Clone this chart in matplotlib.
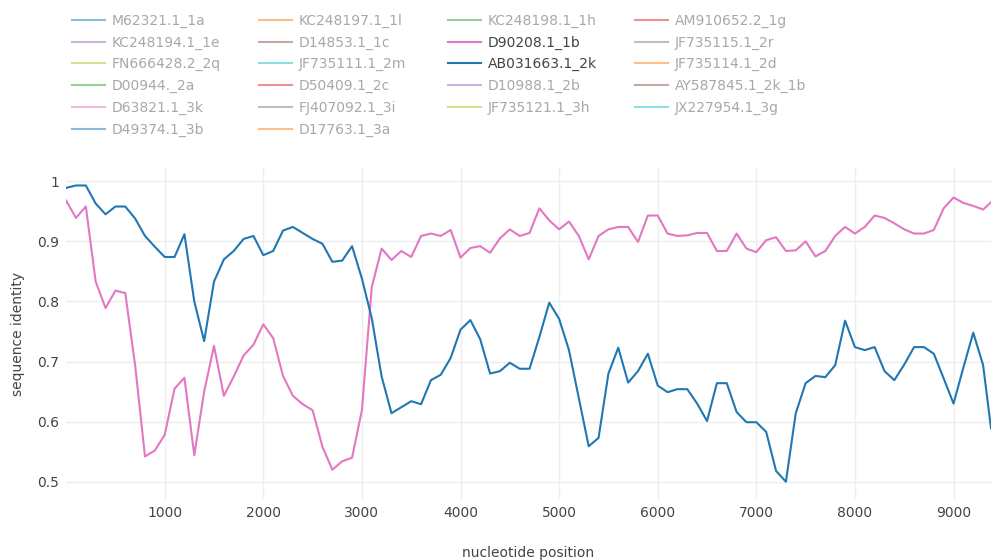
import matplotlib
matplotlib.use("Agg")
import matplotlib.pyplot as plt

plt.rcParams['font.family'] = ['DejaVu Sans']

# ---- data -------------------------------------------------------------
positions = [0, 100, 200, 300, 400, 500, 600, 700, 800, 900,
             1000, 1100, 1200, 1300, 1400, 1500, 1600, 1700, 1800, 1900,
             2000, 2100, 2200, 2300, 2400, 2500, 2600, 2700, 2800, 2900,
             3000, 3100, 3200, 3300, 3400, 3500, 3600, 3700, 3800, 3900,
             4000, 4100, 4200, 4300, 4400, 4500, 4600, 4700, 4800, 4900,
             5000, 5100, 5200, 5300, 5400, 5500, 5600, 5700, 5800, 5900,
             6000, 6100, 6200, 6300, 6400, 6500, 6600, 6700, 6800, 6900,
             7000, 7100, 7200, 7300, 7400, 7500, 7600, 7700, 7800, 7900,
             8000, 8100, 8200, 8300, 8400, 8500, 8600, 8700, 8800, 8900,
             9000, 9100, 9200, 9300, 9380]

identity_D90208_1b = [0.968, 0.939, 0.958, 0.833, 0.789, 0.818, 0.814, 0.694, 0.542, 0.552,
                      0.578, 0.655, 0.673, 0.544, 0.650, 0.726, 0.643, 0.675, 0.710, 0.728,
                      0.762, 0.739, 0.676, 0.643, 0.629, 0.619, 0.558, 0.520, 0.534, 0.540,
                      0.619, 0.824, 0.888, 0.869, 0.884, 0.874, 0.909, 0.913, 0.909, 0.919,
                      0.873, 0.889, 0.892, 0.881, 0.905, 0.920, 0.909, 0.914, 0.955, 0.935,
                      0.920, 0.933, 0.909, 0.870, 0.909, 0.920, 0.924, 0.924, 0.899, 0.943,
                      0.943, 0.913, 0.909, 0.910, 0.914, 0.914, 0.884, 0.884, 0.913, 0.888,
                      0.882, 0.902, 0.907, 0.884, 0.885, 0.900, 0.875, 0.884, 0.909, 0.924,
                      0.913, 0.924, 0.943, 0.939, 0.930, 0.920, 0.913, 0.913, 0.919, 0.955,
                      0.973, 0.964, 0.959, 0.953, 0.965]

identity_AB031663_2k = [0.989, 0.993, 0.993, 0.963, 0.945, 0.958, 0.958, 0.938, 0.909, 0.891,
                        0.874, 0.874, 0.912, 0.800, 0.734, 0.833, 0.870, 0.884, 0.904, 0.909,
                        0.877, 0.884, 0.918, 0.924, 0.914, 0.904, 0.896, 0.866, 0.868, 0.892,
                        0.838, 0.772, 0.675, 0.614, 0.624, 0.634, 0.629, 0.669, 0.678, 0.706,
                        0.753, 0.769, 0.737, 0.680, 0.684, 0.698, 0.688, 0.688, 0.741, 0.798,
                        0.771, 0.719, 0.639, 0.559, 0.573, 0.680, 0.723, 0.665, 0.684, 0.713,
                        0.660, 0.649, 0.654, 0.654, 0.630, 0.601, 0.664, 0.664, 0.616, 0.599,
                        0.599, 0.583, 0.518, 0.500, 0.614, 0.664, 0.676, 0.674, 0.694, 0.768,
                        0.724, 0.719, 0.724, 0.684, 0.669, 0.695, 0.724, 0.724, 0.713, 0.672,
                        0.630, 0.690, 0.748, 0.694, 0.589]

trace_names = ["M62321.1_1a", "KC248197.1_1l", "KC248198.1_1h", "AM910652.2_1g",
               "KC248194.1_1e", "D14853.1_1c", "D90208.1_1b", "JF735115.1_2r",
               "FN666428.2_2q", "JF735111.1_2m", "AB031663.1_2k", "JF735114.1_2d",
               "D00944._2a", "D50409.1_2c", "D10988.1_2b", "AY587845.1_2k_1b",
               "D63821.1_3k", "FJ407092.1_3i", "JF735121.1_3h", "JX227954.1_3g",
               "D49374.1_3b", "D17763.1_3a"]

visible_series = {"D90208.1_1b": identity_D90208_1b,
                  "AB031663.1_2k": identity_AB031663_2k}

y_ticks = [0.5, 0.6, 0.7, 0.8, 0.9, 1.0]
y_tick_labels = ["0.5", "0.6", "0.7", "0.8", "0.9", "1"]
x_ticks = [1000, 2000, 3000, 4000, 5000, 6000, 7000, 8000, 9000]

# ---- style ------------------------------------------------------------
palette = ["#1f77b4", "#ff7f0e", "#2ca02c", "#d62728", "#9467bd",
           "#8c564b", "#e377c2", "#7f7f7f", "#bcbd22", "#17becf"]
text_color = "#444444"
fs = 10

W, H = 991, 560
fig = plt.figure(figsize=(W / 100, H / 100), dpi=100)
ax = fig.add_axes([66.1 / W, (H - 498.9) / H, (W - 66.1) / W, (498.9 - 168.3) / H])

handles = []
for i, name in enumerate(trace_names):
    color = palette[i % len(palette)]
    if name in visible_series:
        ln, = ax.plot(positions, visible_series[name], color=color, lw=1.5,
                      label=name, solid_joinstyle="round", zorder=3)
        handles.append((ln, True))
    else:
        ln = plt.Line2D([], [], color=color, lw=1.5, alpha=0.5, label=name)
        handles.append((ln, False))

ax.set_xlim(0, 9380)
ax.set_ylim(0.4714, 1.0216)
ax.set_xticks(x_ticks)
ax.set_yticks(y_ticks)
ax.set_yticklabels(y_tick_labels)
ax.grid(True, color="#eeeeee", lw=1)
ax.set_axisbelow(True)
for s in ax.spines.values():
    s.set_visible(False)
ax.tick_params(length=0, labelsize=fs, labelcolor=text_color)
ax.tick_params(axis="y", pad=5)
ax.tick_params(axis="x", pad=5)
ax.set_xlabel("nucleotide position", fontsize=fs, color=text_color, labelpad=19)
ax.set_ylabel("sequence identity", fontsize=fs, color=text_color, labelpad=9)

# ---- legend (row-major, 4 columns like the original) ------------------
col_x = [72, 259, 448, 635]
ncol = 4
for c in range(ncol):
    hs = [handles[k] for k in range(c, len(handles), ncol)]
    leg = fig.legend([h for h, _ in hs], [h.get_label() for h, _ in hs],
                     loc="upper left",
                     bbox_to_anchor=(col_x[c] / W, 1 - 13.5 / H),
                     frameon=False, fontsize=fs, handlelength=2.35,
                     handletextpad=0.5, labelspacing=0.56,
                     borderpad=0, borderaxespad=0)
    for txt, (_, vis) in zip(leg.get_texts(), hs):
        txt.set_color(text_color if vis else "#a8a8a8")

fig.savefig("out.png", dpi=100, facecolor="white")
